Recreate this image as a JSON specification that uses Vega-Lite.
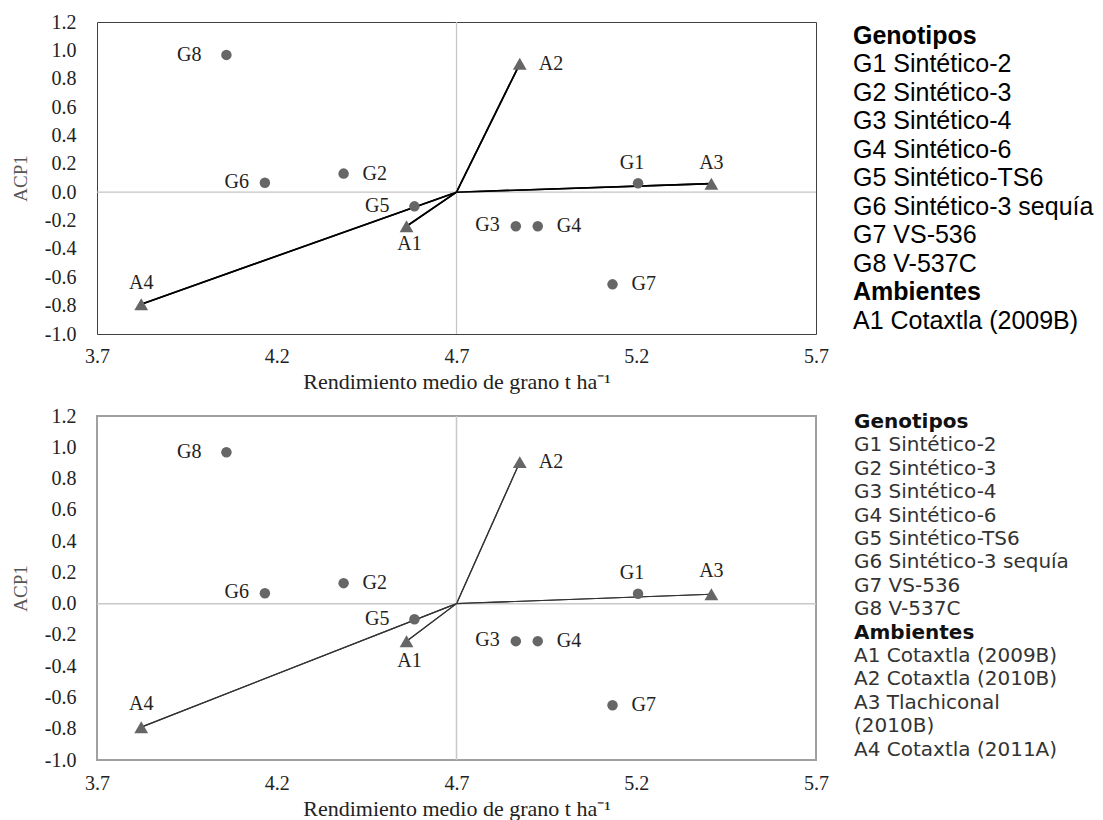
{
  "$schema": "https://vega.github.io/schema/vega-lite/v6.json",
  "padding": {"left": 10, "top": 11, "right": 0, "bottom": 0},
  "background": "white",
  "spacing": 12,
  "config": {"axis": {"labelOverlap": false, "labelFlush": false, "labelBound": false}},
  "datasets": {
    "pts": [
      {"id": "G1", "tipo": "G", "x": 5.205, "y": 0.063},
      {"id": "G2", "tipo": "G", "x": 4.386, "y": 0.131},
      {"id": "G3", "tipo": "G", "x": 4.865, "y": -0.24},
      {"id": "G4", "tipo": "G", "x": 4.926, "y": -0.24},
      {"id": "G5", "tipo": "G", "x": 4.583, "y": -0.1},
      {"id": "G6", "tipo": "G", "x": 4.167, "y": 0.066},
      {"id": "G7", "tipo": "G", "x": 5.134, "y": -0.65},
      {"id": "G8", "tipo": "G", "x": 4.06, "y": 0.968},
      {"id": "A1", "tipo": "A", "x": 4.561, "y": -0.24},
      {"id": "A2", "tipo": "A", "x": 4.876, "y": 0.905},
      {"id": "A3", "tipo": "A", "x": 5.409, "y": 0.06},
      {"id": "A4", "tipo": "A", "x": 3.823, "y": -0.79}
    ],
    "leyenda1": [
      {"i": 0, "kind": "header", "t": "Genotipos"},
      {"i": 1, "kind": "item", "t": "G1 Sintético-2"},
      {"i": 2, "kind": "item", "t": "G2 Sintético-3"},
      {"i": 3, "kind": "item", "t": "G3 Sintético-4"},
      {"i": 4, "kind": "item", "t": "G4 Sintético-6"},
      {"i": 5, "kind": "item", "t": "G5 Sintético-TS6"},
      {"i": 6, "kind": "item", "t": "G6 Sintético-3 sequía"},
      {"i": 7, "kind": "item", "t": "G7 VS-536"},
      {"i": 8, "kind": "item", "t": "G8 V-537C"},
      {"i": 9, "kind": "header", "t": "Ambientes"},
      {"i": 10, "kind": "item", "t": "A1 Cotaxtla (2009B)"}
    ],
    "leyenda2": [
      {"i": 0, "kind": "header", "t": "Genotipos"},
      {"i": 1, "kind": "item", "t": "G1 Sintético-2"},
      {"i": 2, "kind": "item", "t": "G2 Sintético-3"},
      {"i": 3, "kind": "item", "t": "G3 Sintético-4"},
      {"i": 4, "kind": "item", "t": "G4 Sintético-6"},
      {"i": 5, "kind": "item", "t": "G5 Sintético-TS6"},
      {"i": 6, "kind": "item", "t": "G6 Sintético-3 sequía"},
      {"i": 7, "kind": "item", "t": "G7 VS-536"},
      {"i": 8, "kind": "item", "t": "G8 V-537C"},
      {"i": 9, "kind": "header", "t": "Ambientes"},
      {"i": 10, "kind": "item", "t": "A1 Cotaxtla (2009B)"},
      {"i": 11, "kind": "item", "t": "A2 Cotaxtla (2010B)"},
      {"i": 12, "kind": "item", "t": "A3 Tlachiconal"},
      {"i": 13, "kind": "item", "t": "(2010B)"},
      {"i": 14, "kind": "item", "t": "A4 Cotaxtla (2011A)"}
    ]
  },
  "vconcat": [
    {
      "spacing": 24,
      "hconcat": [
        {
          "width": 719,
          "height": 312,
          "view": {"stroke": "#404040", "strokeWidth": 1},
          "layer": [
            {
              "data": {"name": "pts"},
              "transform": [{"filter": "datum.tipo === 'A'"}],
              "mark": {"type": "rule", "color": "#000", "strokeWidth": 1.6},
              "encoding": {
                "x": {"field": "x", "type": "quantitative",
                  "scale": {"domain": [3.7, 5.7], "nice": false, "zero": false},
                  "axis": {"values": [3.7, 4.2, 4.7, 5.2, 5.7], "tickCount": 20, "format": ".1f", "grid": false, "ticks": false, "tickSize": 0, "domain": false,
                    "labelFont": "Liberation Serif", "labelFontSize": 20, "labelColor": "#222", "labelPadding": 12,
                    "title": "Rendimiento medio de grano t ha⁻¹", "titleFont": "Liberation Serif", "titleFontSize": 22, "titleFontWeight": "normal", "titleColor": "#222", "titlePadding": 5}
                },
                "y": {"field": "y", "type": "quantitative",
                  "scale": {"domain": [-1, 1.2], "nice": false, "zero": false},
                  "axis": {"values": [-1, -0.8, -0.6, -0.4, -0.2, 0, 0.2, 0.4, 0.6, 0.8, 1, 1.2], "tickCount": 20,
                    "labelExpr": "datum.value < 0 ? '-' + format(-datum.value, '.1f') : format(datum.value, '.1f')",
                    "grid": false, "ticks": false, "tickSize": 0, "domain": false,
                    "labelFont": "Liberation Serif", "labelFontSize": 20, "labelColor": "#222", "labelPadding": 21,
                    "title": "ACP1", "titleFont": "Liberation Serif", "titleFontSize": 19, "titleFontWeight": "normal", "titleColor": "#555", "titlePadding": 14}
                },
                "x2": {"datum": 4.7},
                "y2": {"datum": 0}
              }
            },
            {
              "data": {"values": [{}]},
              "mark": {"type": "rule", "color": "#c4c4c4", "strokeWidth": 1.2},
              "encoding": {"x": {"datum": 4.7, "type": "quantitative"}}
            },
            {
              "data": {"values": [{}]},
              "mark": {"type": "rule", "color": "#c4c4c4", "strokeWidth": 1.2},
              "encoding": {"y": {"datum": 0, "type": "quantitative"}}
            },
            {
              "data": {"name": "pts"},
              "transform": [{"filter": "datum.tipo === 'A'"}],
              "mark": {"type": "rule", "color": "#000", "strokeWidth": 1.6},
              "encoding": {
                "x": {"field": "x", "type": "quantitative"},
                "y": {"field": "y", "type": "quantitative"},
                "x2": {"datum": 4.7},
                "y2": {"datum": 0}
              }
            },
            {
              "data": {"name": "pts"},
              "transform": [{"filter": "datum.tipo === 'G'"}],
              "mark": {"type": "point", "shape": "circle", "filled": true, "size": 110, "color": "#666666", "opacity": 1},
              "encoding": {
                "x": {"field": "x", "type": "quantitative"},
                "y": {"field": "y", "type": "quantitative"}
              }
            },
            {
              "data": {"name": "pts"},
              "transform": [{"filter": "datum.tipo === 'A'"}],
              "mark": {"type": "point", "shape": "triangle-up", "filled": true, "size": 190, "color": "#666666", "opacity": 1},
              "encoding": {
                "x": {"field": "x", "type": "quantitative"},
                "y": {"field": "y", "type": "quantitative"}
              }
            },
            {
              "data": {"name": "pts"},
              "transform": [{"filter": {"field": "id", "oneOf": ["G8", "G5"]}}],
              "mark": {"type": "text", "align": "right", "baseline": "middle", "dx": -25, "font": "Liberation Serif", "fontSize": 20, "color": "#222"},
              "encoding": {"x": {"field": "x", "type": "quantitative"}, "y": {"field": "y", "type": "quantitative"}, "text": {"field": "id"}}
            },
            {
              "data": {"name": "pts"},
              "transform": [{"filter": {"field": "id", "oneOf": ["G6", "G3"]}}],
              "mark": {"type": "text", "align": "right", "baseline": "middle", "dx": -16, "dy": -1, "font": "Liberation Serif", "fontSize": 20, "color": "#222"},
              "encoding": {"x": {"field": "x", "type": "quantitative"}, "y": {"field": "y", "type": "quantitative"}, "text": {"field": "id"}}
            },
            {
              "data": {"name": "pts"},
              "transform": [{"filter": {"field": "id", "oneOf": ["G2", "A2", "G4", "G7"]}}],
              "mark": {"type": "text", "align": "left", "baseline": "middle", "dx": 19, "font": "Liberation Serif", "fontSize": 20, "color": "#222"},
              "encoding": {"x": {"field": "x", "type": "quantitative"}, "y": {"field": "y", "type": "quantitative"}, "text": {"field": "id"}}
            },
            {
              "data": {"name": "pts"},
              "transform": [{"filter": {"field": "id", "oneOf": ["A4", "A3"]}}],
              "mark": {"type": "text", "align": "center", "baseline": "middle", "dy": -21, "font": "Liberation Serif", "fontSize": 20, "color": "#222"},
              "encoding": {"x": {"field": "x", "type": "quantitative"}, "y": {"field": "y", "type": "quantitative"}, "text": {"field": "id"}}
            },
            {
              "data": {"name": "pts"},
              "transform": [{"filter": {"field": "id", "oneOf": ["G1"]}}],
              "mark": {"type": "text", "align": "center", "baseline": "middle", "dy": -20, "dx": -6, "font": "Liberation Serif", "fontSize": 20, "color": "#222"},
              "encoding": {"x": {"field": "x", "type": "quantitative"}, "y": {"field": "y", "type": "quantitative"}, "text": {"field": "id"}}
            },
            {
              "data": {"name": "pts"},
              "transform": [{"filter": {"field": "id", "oneOf": ["A1"]}}],
              "mark": {"type": "text", "align": "center", "baseline": "middle", "dy": 18, "dx": 3, "font": "Liberation Serif", "fontSize": 20, "color": "#222"},
              "encoding": {"x": {"field": "x", "type": "quantitative"}, "y": {"field": "y", "type": "quantitative"}, "text": {"field": "id"}}
            }
          ]
        },
        {
          "width": 245,
          "height": 322,
          "view": {"stroke": null},
          "data": {"name": "leyenda1"},
          "encoding": {
            "x": {"datum": 0, "type": "quantitative", "scale": {"domain": [0, 1]}, "axis": null},
            "y": {"field": "i", "type": "quantitative", "scale": {"domain": [-0.491, 10.807], "reverse": true, "nice": false, "zero": false}, "axis": null},
            "text": {"field": "t"}
          },
          "layer": [
            {
              "transform": [{"filter": "datum.kind === 'header'"}],
              "mark": {"type": "text", "align": "left", "baseline": "middle", "font": "Liberation Sans", "fontSize": 25, "fontWeight": "bold", "color": "#000"}
            },
            {
              "transform": [{"filter": "datum.kind === 'item'"}],
              "mark": {"type": "text", "align": "left", "baseline": "middle", "font": "Liberation Sans", "fontSize": 25, "color": "#000"}
            }
          ]
        }
      ]
    },
    {
      "spacing": 24,
      "hconcat": [
        {
          "width": 719,
          "height": 344,
          "view": {"stroke": "#a0a0a0", "strokeWidth": 2},
          "layer": [
            {
              "data": {"name": "pts"},
              "transform": [{"filter": "datum.tipo === 'A'"}],
              "mark": {"type": "rule", "color": "#333", "strokeWidth": 1.2},
              "encoding": {
                "x": {"field": "x", "type": "quantitative",
                  "scale": {"domain": [3.7, 5.7], "nice": false, "zero": false},
                  "axis": {"values": [3.7, 4.2, 4.7, 5.2, 5.7], "tickCount": 20, "format": ".1f", "grid": false, "ticks": false, "tickSize": 0, "domain": false,
                    "labelFont": "Liberation Serif", "labelFontSize": 20, "labelColor": "#222", "labelPadding": 13,
                    "title": "Rendimiento medio de grano t ha⁻¹", "titleFont": "Liberation Serif", "titleFontSize": 22, "titleFontWeight": "normal", "titleColor": "#222", "titlePadding": 5}
                },
                "y": {"field": "y", "type": "quantitative",
                  "scale": {"domain": [-1, 1.2], "nice": false, "zero": false},
                  "axis": {"values": [-1, -0.8, -0.6, -0.4, -0.2, 0, 0.2, 0.4, 0.6, 0.8, 1, 1.2], "tickCount": 20,
                    "labelExpr": "datum.value < 0 ? '-' + format(-datum.value, '.1f') : format(datum.value, '.1f')",
                    "grid": false, "ticks": false, "tickSize": 0, "domain": false,
                    "labelFont": "Liberation Serif", "labelFontSize": 20, "labelColor": "#222", "labelPadding": 21,
                    "title": "ACP1", "titleFont": "Liberation Serif", "titleFontSize": 19, "titleFontWeight": "normal", "titleColor": "#555", "titlePadding": 14}
                },
                "x2": {"datum": 4.7},
                "y2": {"datum": 0}
              }
            },
            {
              "data": {"values": [{}]},
              "mark": {"type": "rule", "color": "#c8c8c8", "strokeWidth": 1.5},
              "encoding": {"x": {"datum": 4.7, "type": "quantitative"}}
            },
            {
              "data": {"values": [{}]},
              "mark": {"type": "rule", "color": "#c8c8c8", "strokeWidth": 1.5},
              "encoding": {"y": {"datum": 0, "type": "quantitative"}}
            },
            {
              "data": {"name": "pts"},
              "transform": [{"filter": "datum.tipo === 'A'"}],
              "mark": {"type": "rule", "color": "#333", "strokeWidth": 1.2},
              "encoding": {
                "x": {"field": "x", "type": "quantitative"},
                "y": {"field": "y", "type": "quantitative"},
                "x2": {"datum": 4.7},
                "y2": {"datum": 0}
              }
            },
            {
              "data": {"name": "pts"},
              "transform": [{"filter": "datum.tipo === 'G'"}],
              "mark": {"type": "point", "shape": "circle", "filled": true, "size": 110, "color": "#666666", "opacity": 1},
              "encoding": {
                "x": {"field": "x", "type": "quantitative"},
                "y": {"field": "y", "type": "quantitative"}
              }
            },
            {
              "data": {"name": "pts"},
              "transform": [{"filter": "datum.tipo === 'A'"}],
              "mark": {"type": "point", "shape": "triangle-up", "filled": true, "size": 190, "color": "#666666", "opacity": 1},
              "encoding": {
                "x": {"field": "x", "type": "quantitative"},
                "y": {"field": "y", "type": "quantitative"}
              }
            },
            {
              "data": {"name": "pts"},
              "transform": [{"filter": {"field": "id", "oneOf": ["G8", "G5"]}}],
              "mark": {"type": "text", "align": "right", "baseline": "middle", "dx": -25, "font": "Liberation Serif", "fontSize": 20, "color": "#222"},
              "encoding": {"x": {"field": "x", "type": "quantitative"}, "y": {"field": "y", "type": "quantitative"}, "text": {"field": "id"}}
            },
            {
              "data": {"name": "pts"},
              "transform": [{"filter": {"field": "id", "oneOf": ["G6", "G3"]}}],
              "mark": {"type": "text", "align": "right", "baseline": "middle", "dx": -16, "dy": -1, "font": "Liberation Serif", "fontSize": 20, "color": "#222"},
              "encoding": {"x": {"field": "x", "type": "quantitative"}, "y": {"field": "y", "type": "quantitative"}, "text": {"field": "id"}}
            },
            {
              "data": {"name": "pts"},
              "transform": [{"filter": {"field": "id", "oneOf": ["G2", "A2", "G4", "G7"]}}],
              "mark": {"type": "text", "align": "left", "baseline": "middle", "dx": 19, "font": "Liberation Serif", "fontSize": 20, "color": "#222"},
              "encoding": {"x": {"field": "x", "type": "quantitative"}, "y": {"field": "y", "type": "quantitative"}, "text": {"field": "id"}}
            },
            {
              "data": {"name": "pts"},
              "transform": [{"filter": {"field": "id", "oneOf": ["A4", "A3"]}}],
              "mark": {"type": "text", "align": "center", "baseline": "middle", "dy": -23, "font": "Liberation Serif", "fontSize": 20, "color": "#222"},
              "encoding": {"x": {"field": "x", "type": "quantitative"}, "y": {"field": "y", "type": "quantitative"}, "text": {"field": "id"}}
            },
            {
              "data": {"name": "pts"},
              "transform": [{"filter": {"field": "id", "oneOf": ["G1"]}}],
              "mark": {"type": "text", "align": "center", "baseline": "middle", "dy": -21, "dx": -6, "font": "Liberation Serif", "fontSize": 20, "color": "#222"},
              "encoding": {"x": {"field": "x", "type": "quantitative"}, "y": {"field": "y", "type": "quantitative"}, "text": {"field": "id"}}
            },
            {
              "data": {"name": "pts"},
              "transform": [{"filter": {"field": "id", "oneOf": ["A1"]}}],
              "mark": {"type": "text", "align": "center", "baseline": "middle", "dy": 20, "dx": 3, "font": "Liberation Serif", "fontSize": 20, "color": "#222"},
              "encoding": {"x": {"field": "x", "type": "quantitative"}, "y": {"field": "y", "type": "quantitative"}, "text": {"field": "id"}}
            }
          ]
        },
        {
          "width": 245,
          "height": 344,
          "view": {"stroke": null},
          "data": {"name": "leyenda2"},
          "encoding": {
            "x": {"datum": 0, "type": "quantitative", "scale": {"domain": [0, 1]}, "axis": null},
            "y": {"field": "i", "type": "quantitative", "scale": {"domain": [-0.256, 14.444], "reverse": true, "nice": false, "zero": false}, "axis": null},
            "text": {"field": "t"}
          },
          "layer": [
            {
              "transform": [{"filter": "datum.kind === 'header'"}],
              "mark": {"type": "text", "align": "left", "baseline": "middle", "font": "DejaVu Sans", "fontSize": 20, "fontWeight": "bold", "color": "#111"}
            },
            {
              "transform": [{"filter": "datum.kind === 'item'"}],
              "mark": {"type": "text", "align": "left", "baseline": "middle", "font": "DejaVu Sans", "fontSize": 20, "color": "#333"}
            }
          ]
        }
      ]
    }
  ]
}
